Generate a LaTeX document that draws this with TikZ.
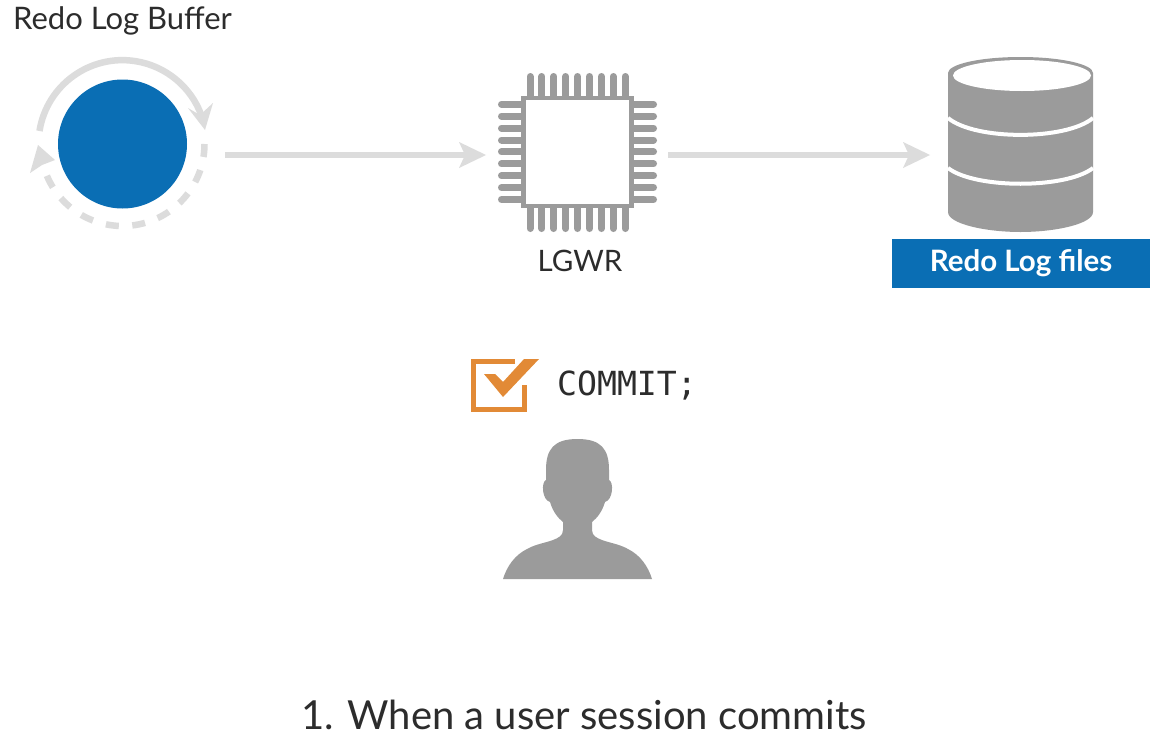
\documentclass[tikz,border=0pt]{standalone}
\usepackage{fontspec}
\setmainfont{Lato}
\newfontfamily\codefont{DejaVu Sans Mono}
\definecolor{ringgray}{HTML}{DCDCDC}
\definecolor{iconwarm}{HTML}{9B9B9B}
\definecolor{blueA}{HTML}{0A6EB4}
\definecolor{orangeA}{HTML}{E28A36}
\definecolor{inkA}{HTML}{2C2C2C}
\tikzset{
  lbl/.style={inner sep=0pt,text=inkA},
  flow/.style={draw=ringgray,line width=6.5pt},
  pin/.style={draw=iconwarm,line width=7pt,line cap=round},
}
\begin{document}
\begin{tikzpicture}[x=1pt,y=-1pt]
\useasboundingbox (0,0) rectangle (1164,755);
\fill[white] (0,0) rectangle (1164,755);
% labels
\node[lbl,font=\fontsize{31}{36}\selectfont,anchor=center] (buflabel) at (122.5,21) {Redo Log Buffer};
\node[lbl,font=\fontsize{29.5}{34}\selectfont] (lgwrlabel) at (580,261) {LGWR};
\node[lbl,font=\fontsize{40}{46}\selectfont] (caption) at (584,715) {1. When a user session commits};
% buffer
\node[circle,fill=blueA,minimum size=129pt,inner sep=0pt] (buffer) at (122.5,144) {};
\draw[ringgray,line width=6.5pt] (39.5,131) arc[start angle=189,end angle=340,radius=84];
\fill[ringgray] (205,130) -- (188,108) -- (200,115) -- (213,103) -- cycle;
\draw[ringgray,line width=6.5pt,dash pattern=on 13pt off 13.5pt] (204.5,144) arc[start angle=0,delta angle=158,radius=82];
\fill[ringgray] (38,145) -- (30,173) -- (42,165) -- (55,160) -- cycle;
% chip
\node[draw=iconwarm,fill=white,line width=4.5pt,minimum size=108pt,inner sep=0pt] (chip) at (577.5,152) {};
\foreach \i in {0,...,8}{
  \draw[pin] (530+11.9*\i,96) -- (530+11.9*\i,76.5);
  \draw[pin] (530+11.9*\i,208) -- (530+11.9*\i,228.5);
  \draw[pin] (521,104.3+11.9*\i) -- (501.5,104.3+11.9*\i);
  \draw[pin] (634,104.3+11.9*\i) -- (653.5,104.3+11.9*\i);
}
% database
\fill[iconwarm] (948,73) arc[start angle=180,end angle=360,x radius=72.5,y radius=16] -- (1093,212) .. controls (1093,224) and (1055,232) .. (1020.5,232) .. controls (986,232) and (948,224) .. (948,212) -- cycle;
\fill[white] (1022,75.5) ellipse[x radius=69,y radius=15.5];
\draw[white,line width=4pt] (948,118) .. controls (975,140.5) and (1066,140.5) .. (1093,118);
\draw[white,line width=4pt] (948,168) .. controls (975,189) and (1066,189) .. (1093,168);
\node[fill=blueA,text=white,minimum width=258pt,minimum height=49pt,inner sep=0pt,font=\fontsize{29.5}{34}\selectfont\bfseries] (files) at (1021,263.5) {Redo Log files};
% connectors
\coordinate (a1) at (225,155);
\coordinate (h1) at (470,155);
\coordinate (a2) at (668,155);
\coordinate (h2) at (914,155);
\draw[flow] (a1) -- (h1);
\fill[ringgray] (486,155) -- (459,142) -- (465,155) -- (459,168) -- cycle;
\draw[flow] (a2) -- (h2);
\fill[ringgray] (930,155) -- (903,142) -- (909,155) -- (903,168) -- cycle;
% commit
\draw[orangeA,line width=5pt] (515,361.5) -- (473.5,361.5) -- (473.5,409.5) -- (524.5,409.5) -- (524.5,385);
\fill[orangeA] (484,374) -- (495,374) -- (503,382) -- (524,359) -- (539,359) -- (503,397) -- cycle;
\node[lbl,font=\fontsize{33.2}{38}\selectfont\codefont] (commit) at (627,385) {COMMIT;};
% person
\fill[iconwarm] (577.5,439) .. controls (554,439) and (546,449) .. (546,470) -- (546,480)
 .. controls (541,482) and (542,500) .. (550,502) .. controls (553,512) and (558,518) .. (563,522)
 -- (563,530) .. controls (563,536) and (558,538) .. (553,540) .. controls (545,543) and (536,544) .. (527,549) .. controls (515,555) and (507,566) .. (503,579) -- (652,579)
 .. controls (648,566) and (640,555) .. (628,549) .. controls (619,544) and (610,543) .. (602,540) .. controls (597,538) and (592,536) .. (592,530) -- (592,522)
 .. controls (597,518) and (602,512) .. (605,502) .. controls (613,500) and (614,482) .. (609,480)
 -- (609,470) .. controls (609,449) and (601,439) .. (577.5,439) -- cycle;
\end{tikzpicture}
\end{document}
